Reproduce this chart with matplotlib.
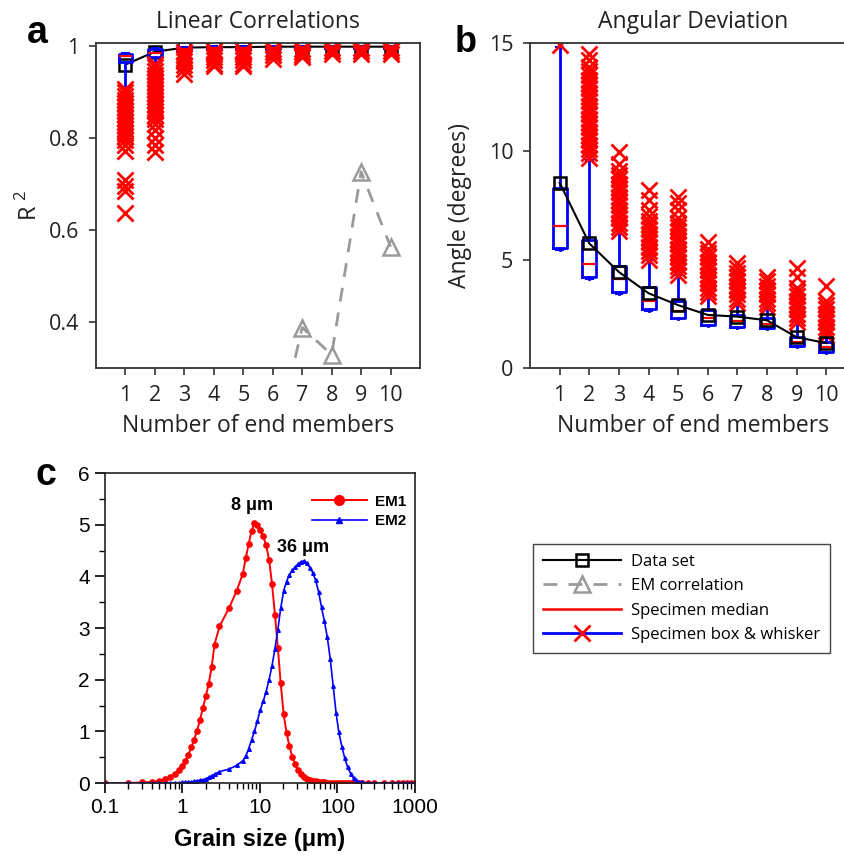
import matplotlib
matplotlib.use("Agg")
import matplotlib.pyplot as plt
from matplotlib.lines import Line2D
from matplotlib.ticker import LogLocator, MultipleLocator, NullFormatter

plt.rcParams['font.family'] = ['Open Sans', 'DejaVu Sans']
plt.rcParams['mathtext.fontset'] = 'custom'
plt.rcParams['mathtext.rm'] = 'Open Sans'

# ---- data -------------------------------------------------------------
n_members = [1, 2, 3, 4, 5, 6, 7, 8, 9, 10]

# (a) linear correlations
r2_dataset = [0.960, 0.988, 0.997, 0.998, 0.998, 0.999, 0.999, 0.999, 0.999, 0.999]
em_corr_n = [6, 7, 8, 9, 10]
em_corr = [0.11, 0.388, 0.329, 0.727, 0.564]

r2_q1 = [0.966, 0.977, 0.990, 0.993, 0.993, 0.995, 0.996, 0.996, 0.997, 0.997]
r2_med = [0.979, 0.985, 0.995, 0.996, 0.996, 0.997, 0.998, 0.998, 0.998, 0.998]
r2_q3 = [0.984, 0.993, 0.998, 0.999, 0.999, 0.999, 0.999, 0.999, 0.999, 0.999]
r2_lo = [0.909, 0.962, 0.988, 0.990, 0.990, 0.994, 0.995, 0.996, 0.996, 0.996]
r2_hi = [0.986, 0.996, 0.999, 1.000, 1.000, 1.000, 1.000, 1.000, 1.000, 1.000]
r2_out = [
    [0.908, 0.900, 0.892, 0.884, 0.876, 0.868, 0.860, 0.852, 0.844, 0.836, 0.828,
     0.820, 0.812, 0.804, 0.796, 0.785, 0.772, 0.708, 0.697, 0.686, 0.637],
    [0.962, 0.954, 0.946, 0.938, 0.930, 0.922, 0.914, 0.906, 0.898, 0.890, 0.882,
     0.874, 0.866, 0.858, 0.850, 0.842, 0.830, 0.818, 0.800, 0.785, 0.770],
    [0.988, 0.981, 0.974, 0.967, 0.960, 0.951, 0.939],
    [0.990, 0.983, 0.976, 0.969, 0.962, 0.956],
    [0.990, 0.983, 0.976, 0.969, 0.962, 0.956],
    [0.994, 0.987, 0.980, 0.973],
    [0.995, 0.988, 0.981, 0.976],
    [0.996, 0.990, 0.983],
    [0.996, 0.990, 0.983],
    [0.996, 0.990, 0.983],
]

# (b) angular deviation
ang_dataset = [8.55, 5.75, 4.43, 3.45, 2.90, 2.45, 2.37, 2.20, 1.42, 1.15]
ang_q1 = [5.53, 4.20, 3.50, 2.70, 2.30, 2.00, 1.90, 1.83, 1.00, 0.75]
ang_med = [6.55, 4.80, 4.10, 3.10, 2.65, 2.30, 2.15, 2.05, 1.20, 0.97]
ang_q3 = [8.30, 5.90, 4.70, 3.75, 3.10, 2.68, 2.45, 2.30, 1.45, 1.20]
ang_lo = [5.45, 4.10, 3.40, 2.65, 2.25, 1.95, 1.85, 1.80, 0.98, 0.70]
ang_hi = [14.8, 9.6, 6.3, 5.0, 4.3, 3.3, 3.0, 2.75, 2.1, 1.6]
ang_out = [
    [14.9],
    [9.7, 9.9, 10.1, 10.3, 10.5, 10.7, 10.9, 11.1, 11.3, 11.5, 11.7, 11.9, 12.1,
     12.3, 12.5, 12.7, 12.9, 13.1, 13.3, 13.5, 13.7, 13.9, 14.2, 14.5],
    [6.3, 6.5, 6.7, 6.9, 7.1, 7.3, 7.5, 7.7, 7.9, 8.1, 8.3, 8.5, 8.7, 8.9, 9.1,
     9.4, 9.95],
    [5.0, 5.2, 5.4, 5.6, 5.8, 6.0, 6.2, 6.4, 6.6, 6.8, 7.0, 7.3, 7.75, 8.2],
    [4.3, 4.5, 4.7, 4.9, 5.1, 5.3, 5.5, 5.7, 5.9, 6.1, 6.3, 6.5, 6.7, 6.9, 7.3,
     7.6, 7.9],
    [3.3, 3.5, 3.7, 3.9, 4.1, 4.3, 4.5, 4.7, 4.9, 5.1, 5.3, 5.5, 5.8],
    [3.0, 3.2, 3.4, 3.6, 3.8, 4.0, 4.2, 4.4, 4.6, 4.85],
    [2.8, 3.0, 3.2, 3.4, 3.6, 3.8, 4.0, 4.2],
    [2.1, 2.3, 2.5, 2.7, 2.9, 3.1, 3.3, 3.5, 3.7, 4.2, 4.6],
    [1.5, 1.7, 1.9, 2.1, 2.3, 2.5, 2.7, 2.9, 3.1, 3.8],
]

# (c) end member grain size distributions
grain_size = [0.1, 0.2, 0.3, 0.4, 0.5, 0.6, 0.7, 0.8, 0.9,
              1.0, 1.09, 1.19, 1.30, 1.41, 1.54, 1.68, 1.83, 2.00, 2.18,
              2.38, 2.59, 3.00, 4.00, 5.00, 6.00, 6.54, 7.13, 7.78, 8.48,
              9.25, 10.1, 11.0, 12.0, 13.1, 14.3, 15.6, 17.0, 18.5, 20.2,
              22.0, 24.0, 26.2, 28.5, 31.1, 33.9, 37.0, 40.3, 44.0, 48.0,
              52.3, 57.0, 62.2, 67.8, 73.9, 80.6, 87.9, 95.8, 104, 114,
              124, 135, 148, 161, 175, 191, 208, 250, 300, 400,
              500, 600, 700, 800, 900, 1000]
em1 = [0.00, 0.00, 0.01, 0.02, 0.04, 0.07, 0.12, 0.18, 0.25,
       0.33, 0.43, 0.55, 0.69, 0.84, 1.01, 1.22, 1.45, 1.68, 1.92,
       2.25, 2.68, 3.03, 3.39, 3.72, 4.05, 4.35, 4.62, 4.88, 5.03,
       5.00, 4.90, 4.78, 4.60, 4.32, 3.85, 3.25, 2.62, 1.93, 1.33,
       0.97, 0.71, 0.50, 0.37, 0.26, 0.17, 0.12, 0.08, 0.05, 0.04,
       0.03, 0.02, 0.01, 0.01, 0.00, 0.00, 0.00, 0.00, 0.00, 0.00,
       0.00, 0.00, 0.00, 0.00, 0.00, 0.00, 0.00, 0.00, 0.00, 0.00,
       0.00, 0.00, 0.00, 0.00, 0.00, 0.00]
em2 = [0.00, 0.00, 0.00, 0.00, 0.00, 0.00, 0.00, 0.00, 0.00,
       0.01, 0.01, 0.02, 0.02, 0.03, 0.04, 0.05, 0.06, 0.08, 0.11,
       0.14, 0.17, 0.22, 0.27, 0.34, 0.43, 0.52, 0.66, 0.83, 1.00,
       1.20, 1.42, 1.58, 1.77, 2.00, 2.27, 2.60, 2.97, 3.38, 3.72,
       3.90, 4.03, 4.12, 4.18, 4.24, 4.28, 4.30, 4.25, 4.17, 4.07,
       3.92, 3.70, 3.40, 3.13, 2.82, 2.40, 1.88, 1.36, 0.98, 0.70,
       0.48, 0.31, 0.18, 0.09, 0.05, 0.02, 0.01, 0.00, 0.00, 0.00,
       0.00, 0.00, 0.00, 0.00, 0.00, 0.00]
modes = [8, 36]
mode_heights = [5.38, 4.55]

# ---- styling helpers ----------------------------------------------------
W, H = 845, 855
SPINE = '#333333'


def px_axes(fig, left, top, right, bottom):
    return fig.add_axes([left / W, 1 - bottom / H, (right - left) / W, (bottom - top) / H])


def style_ab(ax):
    for s in ax.spines.values():
        s.set_color(SPINE)
        s.set_linewidth(1.3)
    ax.tick_params(direction='out', length=5, width=1.2, color=SPINE,
                   labelsize=15.5, labelcolor='#222222', pad=7)
    ax.set_xlim(0, 11)
    ax.set_xticks(n_members)
    ax.set_xlabel('Number of end members', fontsize=16.5, color='#222222', labelpad=6)


def boxes(ax, q1, med, q3, lo, hi, out):
    stats = [dict(q1=a, med=m, q3=b, whislo=l, whishi=h, fliers=f)
             for a, m, b, l, h, f in zip(q1, med, q3, lo, hi, out)]
    ax.bxp(stats, positions=n_members, widths=0.47, capwidths=0.22,
           manage_ticks=False,
           boxprops=dict(color='blue', lw=2),
           whiskerprops=dict(color='blue', lw=2),
           capprops=dict(color='blue', lw=1.5),
           medianprops=dict(color='red', lw=1.6),
           flierprops=dict(marker='x', markeredgecolor='red', markersize=11,
                           markeredgewidth=2, linestyle='none'))


fig = plt.figure(figsize=(W / 100, H / 100), dpi=100)

# ---- (a) ----------------------------------------------------------------
ax_a = px_axes(fig, 96, 43, 420, 368)
style_ab(ax_a)
ds_line, = ax_a.plot(n_members, r2_dataset, color='black', lw=1.5, marker='s',
                     markersize=9, markerfacecolor='none', markeredgewidth=1.8,
                     zorder=2)
boxes(ax_a, r2_q1, r2_med, r2_q3, r2_lo, r2_hi, r2_out)
em_line, = ax_a.plot(em_corr_n, em_corr, color='#9a9a9a', lw=2, ls=(0, (5, 4)),
                     marker='^', markersize=11, markerfacecolor='none',
                     markeredgewidth=1.8, zorder=4)
ax_a.set_ylim(0.3, 1.007)
ax_a.set_yticks([0.4, 0.6, 0.8, 1.0])
ax_a.set_yticklabels(['0.4', '0.6', '0.8', '1'])
ax_a.set_ylabel(r'R$^{\ \mathrm{2}}$', fontsize=17, color='#222222')
ax_a.yaxis.set_label_coords(-0.165, 0.5)
ax_a.set_title('Linear Correlations', fontsize=16.5, color='#222222', pad=11)
fig.text(37 / W, 1 - 33 / H, 'a', family='Liberation Sans', weight='bold',
         fontsize=27, ha='center', va='center')

# ---- (b) ----------------------------------------------------------------
ax_b = px_axes(fig, 530, 43, 856, 368)
style_ab(ax_b)
ax_b.spines['right'].set_visible(False)
boxes(ax_b, ang_q1, ang_med, ang_q3, ang_lo, ang_hi, ang_out)
ax_b.plot(n_members, ang_dataset, color='black', lw=1.5, marker='s',
          markersize=9, markerfacecolor='none', markeredgewidth=1.8, zorder=4)
ax_b.set_ylim(0, 15)
ax_b.set_yticks([0, 5, 10, 15])
ax_b.set_ylabel('Angle (degrees)', fontsize=16.5, color='#222222')
ax_b.yaxis.set_label_coords(-0.178, 0.5)
ax_b.set_title('Angular Deviation', fontsize=16.5, color='#222222', pad=11)
fig.text(466 / W, 1 - 42 / H, 'b', family='Liberation Sans', weight='bold',
         fontsize=26, ha='center', va='center')

# ---- (c) ----------------------------------------------------------------
ax_c = px_axes(fig, 105, 473, 415, 783)
ax_c.plot(grain_size, em1, color='red', lw=1.4, marker='o', markersize=3.8,
          label='EM1')
ax_c.plot(grain_size, em2, color='blue', lw=1.2, marker='^', markersize=2.6,
          label='EM2')
ax_c.set_xscale('log')
ax_c.set_xlim(0.1, 1000)
ax_c.set_ylim(0, 6)
ax_c.set_xticks([0.1, 1, 10, 100, 1000])
ax_c.set_xticklabels(['0.1', '1', '10', '100', '1000'])
ax_c.xaxis.set_minor_locator(LogLocator(base=10, subs=range(2, 10)))
ax_c.xaxis.set_minor_formatter(NullFormatter())
ax_c.yaxis.set_major_locator(MultipleLocator(1))
ax_c.yaxis.set_minor_locator(MultipleLocator(0.5))
for s in ax_c.spines.values():
    s.set_color('#222222')
    s.set_linewidth(1.2)
ax_c.tick_params(which='major', direction='out', length=7, width=1.2,
                 labelsize=15, pad=4)
ax_c.tick_params(which='minor', direction='out', length=4, width=1)
for lab in ax_c.get_xticklabels() + ax_c.get_yticklabels():
    lab.set_family('Liberation Sans')
ax_c.set_xlabel('Grain size (μm)', family='Liberation Sans', weight='bold',
                fontsize=17, labelpad=8)
for m, h in zip(modes, mode_heights):
    ax_c.text(m, h, f'{m} μm', family='Liberation Sans', weight='bold',
              fontsize=13, ha='center', va='center')
c_handles = [Line2D([], [], color='red', lw=1.4, marker='o', markersize=7),
             Line2D([], [], color='blue', lw=1.2, marker='^', markersize=4.5)]
ax_c.legend(c_handles, ['EM1', 'EM2'], loc='upper right',
            bbox_to_anchor=(0.99, 0.95), frameon=False, handlelength=3.6,
            handletextpad=0.5, labelspacing=0.35, borderaxespad=0,
            prop=dict(family='Liberation Sans', weight='bold', size=11))
fig.text(46 / W, 1 - 475 / H, 'c', family='Liberation Sans', weight='bold',
         fontsize=27, ha='center', va='center')

# ---- shared legend ----------------------------------------------------------
med_handle = Line2D([], [], color='red', lw=1.8)
bw_handle = (Line2D([], [], color='blue', lw=2),
             Line2D([], [], color='red', marker='x', markersize=11,
                    markeredgewidth=2, linestyle='none'))
fig.legend([ds_line, em_line, med_handle, bw_handle],
           ['Data set', 'EM correlation', 'Specimen median', 'Specimen box & whisker'],
           loc='upper left', bbox_to_anchor=(533 / W, 1 - 544 / H),
           borderaxespad=0, fancybox=False, edgecolor='#444444', framealpha=1,
           fontsize=12, handlelength=4.7, handletextpad=0.6, labelspacing=0.5,
           borderpad=0.6)

fig.savefig('out.png', dpi=100)
